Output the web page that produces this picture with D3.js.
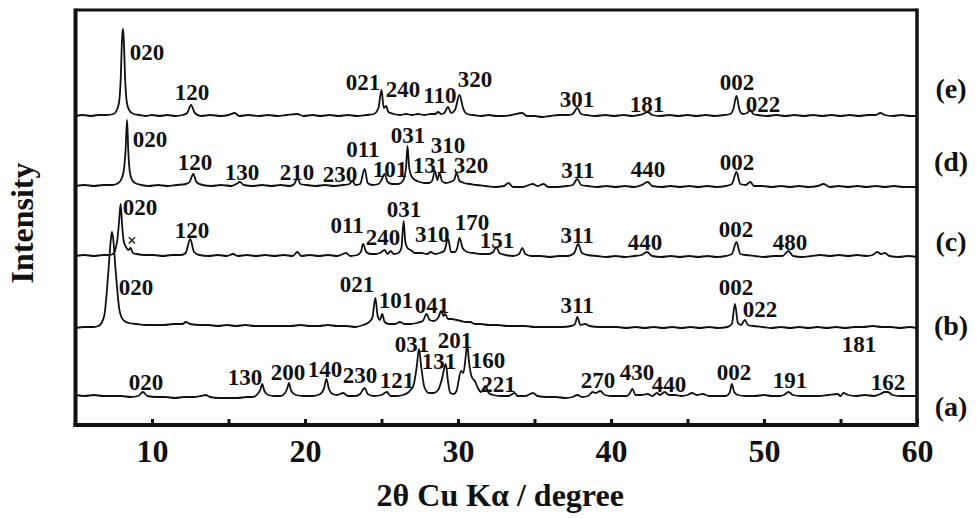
<!DOCTYPE html>
<html>
<head>
<meta charset="utf-8">
<script src="https://cdn.jsdelivr.net/npm/d3@7"></script>
<style>
  body { margin: 0; background: #fff; }
  text { font-family: "Liberation Serif", "Times New Roman", serif; font-weight: bold; fill: #111; }
</style>
</head>
<body>
<svg id="chart" width="978" height="518"></svg>
<script>
// series order bottom -> top
const seriesNames = ['(a)', '(b)', '(c)', '(d)', '(e)'];
const offsets = [28, 99, 169, 239, 309];
const nameLevels = [-11, -1, 13, 23, 26];
const xTicks = [10, 15, 20, 25, 30, 35, 40, 45, 50, 55, 60];

// [2theta, intensity above the pattern's own baseline]
const patternA = [[5,2],[5.6,1],[6.2,2],[6.8,1],[7.4,1],[8,1],[8.6,0],[9.1,1],[9.4,5],[9.7,1],[10.3,0],[10.9,0],[11.5,-1],[12.1,0],[12.7,0],[13.2,1],[13.5,2],[13.8,0],[14.4,-1],[15,-1],[15.6,-1],[16.2,0],[16.6,0],[16.9,3],[17.1,8],[17.2,13],[17.35,6],[17.6,2],[18,1],[18.4,1],[18.7,4],[18.85,9],[18.95,14],[19.1,6],[19.4,2],[19.9,1],[20.5,1],[21,3],[21.25,9],[21.4,18],[21.55,9],[21.8,3],[22.1,2],[22.5,4],[22.8,1],[23.3,1],[23.6,3],[23.9,9],[24.1,3],[24.5,1],[25,2],[25.35,5],[25.6,1],[26,1],[26.4,2],[26.7,4],[26.9,7],[27.1,12],[27.3,30],[27.45,48],[27.6,30],[27.8,10],[28.1,4],[28.4,4],[28.7,7],[28.95,18],[29.2,33],[29.35,15],[29.5,4],[29.7,3],[29.9,6],[30.2,26],[30.35,24],[30.5,40],[30.6,53],[30.72,35],[30.9,20],[31.1,16],[31.3,9],[31.5,5],[31.8,11],[32,4],[32.3,2],[32.8,1],[33.3,1],[33.7,4],[33.9,1],[34.4,1],[34.9,4],[35.2,1],[35.8,0],[36.4,0],[37,-1],[37.5,0],[37.8,2],[38.1,0],[38.5,1],[38.8,5],[39,4],[39.3,6],[39.6,2],[40,1],[40.6,1],[41,1],[41.2,3],[41.4,8],[41.6,2],[42,2],[42.4,3],[42.7,1],[43,4],[43.2,2],[43.5,5],[43.8,2],[44.2,2],[44.6,1],[45,2],[45.3,4],[45.6,2],[46,3],[46.4,1],[47,1],[47.5,1],[47.75,4],[47.9,13],[48.05,5],[48.3,2],[48.8,1],[49.4,1],[50,2],[50.5,1],[51,1],[51.3,2],[51.6,5],[51.9,2],[52.4,1],[53,1],[53.6,1],[54.2,2],[54.8,3],[55,1],[55.2,4],[55.5,2],[56,1],[56.6,2],[57.2,1],[57.6,3],[57.9,5],[58.1,5],[58.4,2],[58.9,1],[59.4,1],[60,1]];

const patternB = [[5,-2],[5.6,-1],[6.2,-1],[6.5,0],[6.7,3],[6.9,12],[7.05,35],[7.2,65],[7.3,85],[7.38,94],[7.48,85],[7.6,60],[7.72,38],[7.85,18],[8,9],[8.2,5],[8.5,3],[9,2],[9.6,1],[10.2,1],[10.8,1],[11.4,2],[12,2],[12.2,4],[12.5,2],[13.1,1],[13.7,1],[14.3,0],[14.9,1],[15.5,0],[16.1,1],[16.7,0],[17.3,0],[17.9,0],[18.5,0],[19.1,0],[19.7,1],[20.3,0],[20.9,0],[21.5,1],[22.1,0],[22.7,0],[23.3,-1],[23.8,1],[24.1,3],[24.4,8],[24.6,28],[24.75,10],[24.9,6],[25.05,12],[25.2,4],[25.5,2],[25.9,2],[26.2,4],[26.5,2],[26.9,2],[27.3,3],[27.7,5],[27.95,12],[28.15,6],[28.4,5],[28.7,8],[28.9,15],[29.05,10],[29.15,12],[29.35,7],[29.6,7],[29.9,6],[30.2,5],[30.5,4],[30.8,4],[31.1,2],[31.5,2],[32,1],[32.6,1],[33.2,0],[33.8,0],[34.4,0],[35,-1],[35.6,-1],[36.2,-1],[36.8,-1],[37.4,0],[37.65,2],[37.8,9],[38,1],[38.3,2],[38.6,0],[39.2,-1],[39.8,-1],[40.4,-1],[41,-2],[41.6,-1],[42.2,-2],[42.8,-1],[43.4,-2],[44,-1],[44.6,-2],[45.2,-1],[45.8,-2],[46.4,-1],[47,-2],[47.6,-1],[47.9,2],[48.1,22],[48.3,3],[48.5,1],[48.75,6],[48.95,1],[49.3,0],[49.9,-1],[50.5,-2],[51.1,-1],[51.7,-2],[52.3,-1],[52.9,-2],[53.5,-1],[54.1,-2],[54.7,-1],[55.3,-2],[55.9,-1],[56.5,-1],[57.1,0],[57.7,-1],[58.3,-1],[58.9,-2],[59.5,-1],[60,-2]];

const patternC = [[5,0],[5.6,1],[6.2,0],[6.8,1],[7.2,1],[7.45,2],[7.6,6],[7.75,18],[7.85,35],[7.95,52],[8.05,30],[8.15,15],[8.3,9],[8.45,6],[8.6,8],[8.75,3],[9,2],[9.5,1],[10.1,1],[10.7,0],[11.3,1],[11.9,1],[12.2,3],[12.5,17],[12.75,4],[13.1,1],[13.7,0],[14.3,1],[14.9,0],[15.3,2],[15.6,0],[16.2,1],[16.8,0],[17.4,1],[18,0],[18.6,1],[19.2,0],[19.5,4],[19.75,0],[20.3,1],[20.9,0],[21.5,1],[22.1,0],[22.7,3],[22.95,0],[23.4,1],[23.65,4],[23.8,12],[24,4],[24.3,2],[24.6,2],[24.9,3],[25.2,6],[25.4,2],[25.6,5],[25.8,2],[26.1,3],[26.3,8],[26.45,35],[26.55,15],[26.7,8],[26.9,6],[27.2,3],[27.6,3],[28,2],[28.2,4],[28.5,2],[28.8,3],[29.1,5],[29.35,17],[29.55,4],[29.8,4],[29.95,8],[30.1,18],[30.3,8],[30.6,4],[31,3],[31.5,2],[32,2],[32.3,4],[32.5,9],[32.7,3],[33.1,1],[33.6,0],[34,2],[34.2,8],[34.4,2],[34.8,0],[35.4,0],[36,-1],[36.6,0],[37.2,0],[37.6,3],[37.85,12],[38.1,3],[38.5,1],[39.1,0],[39.7,-1],[40.3,0],[40.9,-1],[41.5,0],[42,1],[42.35,4],[42.7,0],[43.3,-1],[43.9,0],[44.5,-1],[45.1,0],[45.7,-1],[46.3,0],[46.9,-1],[47.5,0],[47.9,2],[48.2,14],[48.45,2],[48.8,1],[49.4,0],[50,-1],[50.6,0],[51.2,0],[51.6,5],[51.9,0],[52.5,-1],[53.1,0],[53.7,1],[54.3,0],[54.9,1],[55.5,0],[56.1,1],[56.7,0],[57.1,1],[57.4,4],[57.65,2],[57.9,3],[58.2,0],[58.8,-1],[59.4,0],[60,-1]];

const patternD = [[5,0],[5.6,1],[6.2,0],[6.8,1],[7.4,1],[7.8,3],[8,7],[8.15,15],[8.27,35],[8.37,66],[8.45,35],[8.55,14],[8.7,6],[8.9,3],[9.3,1],[9.8,0],[10.4,1],[11,0],[11.6,1],[12.2,2],[12.45,4],[12.7,12],[12.9,4],[13.3,1],[13.9,0],[14.5,1],[15.2,0],[15.5,2],[15.75,4],[16,1],[16.6,0],[17.2,1],[17.8,0],[18.4,1],[19,0],[19.3,2],[19.5,8],[19.7,2],[20.1,1],[20.7,0],[21.3,1],[21.9,0],[22.5,1],[22.9,2],[23.1,5],[23.3,1],[23.6,2],[23.9,17],[24.1,3],[24.4,1],[24.8,2],[25,6],[25.2,12],[25.4,4],[25.7,2],[26.1,2],[26.4,5],[26.6,18],[26.7,40],[26.8,20],[26.95,10],[27.2,6],[27.5,4],[27.8,3],[28.1,3],[28.3,5],[28.5,15],[28.65,6],[28.8,13],[28.95,5],[29.2,3],[29.5,4],[29.75,6],[29.9,13],[30.1,5],[30.4,3],[30.8,2],[31.2,1],[31.8,0],[32.4,-1],[33,0],[33.3,3],[33.6,-1],[34.2,-1],[34.9,2],[35.2,0],[35.6,2],[35.9,-1],[36.5,-1],[37.1,0],[37.5,1],[37.8,7],[38.05,1],[38.5,0],[39.1,-1],[39.7,0],[40.3,-1],[40.9,0],[41.5,-1],[42,1],[42.4,4],[42.7,0],[43.3,-1],[43.9,0],[44.5,-1],[45.1,0],[45.7,-1],[46.3,0],[46.9,-1],[47.5,0],[47.9,2],[48.2,14],[48.45,2],[48.8,1],[49.1,4],[49.35,0],[49.9,0],[50.5,-1],[51.1,0],[51.7,-1],[52.3,0],[52.9,-1],[53.5,0],[53.9,2],[54.3,-1],[54.9,0],[55.5,-1],[56.1,0],[56.7,-1],[57.3,0],[57.9,-1],[58.5,0],[59.1,-1],[60,-1]];

const patternE = [[5,0],[5.5,1],[6,0],[6.5,1],[7,1],[7.5,2],[7.7,6],[7.85,14],[7.95,35],[8.05,80],[8.1,87],[8.15,78],[8.25,35],[8.35,14],[8.5,6],[8.8,2],[9.2,1],[9.6,0],[10,1],[10.5,0],[11,1],[11.5,0],[12,1],[12.3,3],[12.55,11],[12.8,3],[13.2,0],[13.8,1],[14.5,0],[15,1],[15.4,3],[15.7,0],[16.3,1],[17,0],[17.6,1],[18.2,0],[18.8,1],[19.5,2],[19.9,0],[20.5,1],[21,0],[21.6,1],[22.2,0],[22.8,1],[23.4,0],[24,1],[24.5,2],[24.8,8],[25,26],[25.15,8],[25.3,10],[25.45,4],[25.8,2],[26.2,1],[26.6,2],[27,1],[27.4,2],[27.8,1],[28.2,2],[28.5,2],[28.7,4],[28.9,2],[29.1,3],[29.35,9],[29.55,3],[29.8,6],[30.1,21],[30.35,7],[30.6,2],[31,1],[31.5,0],[32,1],[32.5,0],[33,0],[33.5,1],[34.2,3],[34.5,0],[35,0],[35.5,-1],[36,0],[36.6,1],[37.2,1],[37.5,2],[37.8,8],[38.05,2],[38.4,1],[39,0],[39.6,1],[40.2,0],[40.8,1],[41.4,0],[41.8,1],[42.1,2],[42.4,4],[42.7,1],[43.2,0],[43.8,1],[44.4,0],[45,1],[45.6,0],[46.2,1],[46.8,0],[47.4,1],[47.8,2],[48,7],[48.2,20],[48.4,6],[48.6,2],[48.9,3],[49.1,6],[49.3,2],[49.6,1],[50.2,0],[50.8,1],[51.4,0],[52,1],[52.6,0],[53.2,1],[53.8,0],[54.4,1],[55,0],[55.6,1],[56.2,0],[56.8,1],[57.3,1],[57.6,3],[57.9,1],[58.4,0],[59,1],[59.5,0],[60,0]];

// Miller index labels: [text, 2theta, height above the pattern baseline]
const labelsA = [['020',9.61,7],['130',16.08,12],['200',18.89,17],['140',21.31,20],['230',23.59,14],['121',26.01,9],['031',26.99,45],['131',28.76,28],['201',29.8,49],['160',31.96,29],['221',32.65,5],['270',39.15,9],['430',41.7,17],['440',43.79,5],['002',48.04,17],['191',51.7,9],['181',56.21,45],['162',58.1,7]];
const labelsB = [['020',8.95,31],['021',23.4,34],['101',25.95,18],['041',28.3,13],['311',37.78,13],['002',48.17,31],['022',49.74,9]];
const labelsC = [['020',9.22,41],['×',8.69,10],['120',12.61,18],['011',22.75,23],['240',25.1,11],['031',26.47,39],['310',28.31,14],['170',30.92,26],['151',32.55,8],['311',37.78,13],['440',42.22,6],['002',48.17,19],['480',51.7,6]];
const labelsD = [['020',9.87,39],['120',12.81,16],['130',15.88,6],['210',19.48,6],['230',22.29,4],['011',23.79,29],['101',25.56,9],['031',26.73,43],['131',28.17,13],['310',29.35,33],['320',30.85,13],['311',37.84,8],['440',42.42,9],['002',48.24,16]];
const labelsE = [['020',9.67,56],['120',12.61,16],['021',23.79,26],['240',26.41,19],['110',28.82,13],['320',31.11,29],['301',37.78,9],['181',42.35,4],['002',48.24,26],['022',49.93,4]];

const patterns = [patternA, patternB, patternC, patternD, patternE];
const labels = [labelsA, labelsB, labelsC, labelsD, labelsE];

const svg = d3.select('#chart');

const x = d3.scaleLinear().domain([5, 60]).range([75.5, 917]);
const y = d3.scaleLinear().domain([0, 415]).range([425, 10]);

// patterns
const line = d3.line()
    .x(d => x(d[0]))
    .y(d => y(d[1]))
    .curve(d3.curveMonotoneX);

patterns.forEach((p, i) => {
    svg.append('path')
        .datum(p.map(d => [d[0], d[1] + offsets[i]]))
        .attr('d', line)
        .attr('fill', 'none')
        .attr('stroke', '#111')
        .attr('stroke-width', 1.8)
        .attr('stroke-linejoin', 'round');
});

// peak labels
labels.forEach((list, i) => {
    svg.append('g').selectAll('text')
        .data(list)
        .join('text')
        .attr('x', d => x(d[1]))
        .attr('y', d => y(d[2] + offsets[i]))
        .attr('text-anchor', 'middle')
        .attr('font-size', d => d[0] === '×' ? 17 : 23)
        .text(d => d[0]);
});

// frame
const x0 = x(5), x1 = x(60), yTop = y(415), yBot = y(0);
svg.append('line').attr('x1', x0).attr('x2', x1).attr('y1', yTop).attr('y2', yTop)
    .attr('stroke', '#111').attr('stroke-width', 3);
svg.append('line').attr('x1', x1).attr('x2', x1).attr('y1', yTop - 1.5).attr('y2', yBot)
    .attr('stroke', '#111').attr('stroke-width', 3.5);
svg.append('line').attr('x1', x0).attr('x2', x0).attr('y1', yTop - 1.5).attr('y2', yBot + 2)
    .attr('stroke', '#111').attr('stroke-width', 4);

// bottom axis, ticks inward
const axis = svg.append('g')
    .attr('transform', `translate(0,${yBot})`)
    .call(d3.axisBottom(x)
        .tickValues(xTicks)
        .tickSize(-6)
        .tickSizeOuter(0)
        .tickPadding(14)
        .tickFormat(d => d % 10 === 0 ? d : ''));
axis.select('.domain').attr('stroke', '#111').attr('stroke-width', 4)
    .attr('d', `M${x0 - 2},0H${x1 + 1.75}`);
axis.selectAll('.tick line').attr('stroke', '#111').attr('stroke-width', 3);
axis.selectAll('.tick text')
    .attr('font-size', 32)
    .attr('font-family', '"Liberation Serif", "Times New Roman", serif')
    .attr('font-weight', 'bold')
    .attr('fill', '#111');

// series names on the right
svg.append('g').selectAll('text')
    .data(seriesNames)
    .join('text')
    .attr('x', 951)
    .attr('y', (d, i) => y(offsets[i] + nameLevels[i]))
    .attr('dy', '0.3em')
    .attr('text-anchor', 'middle')
    .attr('font-size', 28)
    .text(d => d);

// axis titles
svg.append('text')
    .attr('x', (x0 + x1) / 2 + 4)
    .attr('y', 506)
    .attr('text-anchor', 'middle')
    .attr('font-size', 32)
    .text('2θ Cu Kα / degree');

svg.append('text')
    .attr('transform', 'translate(33,223) rotate(-90)')
    .attr('text-anchor', 'middle')
    .attr('font-size', 32)
    .text('Intensity');
</script>
</body>
</html>
